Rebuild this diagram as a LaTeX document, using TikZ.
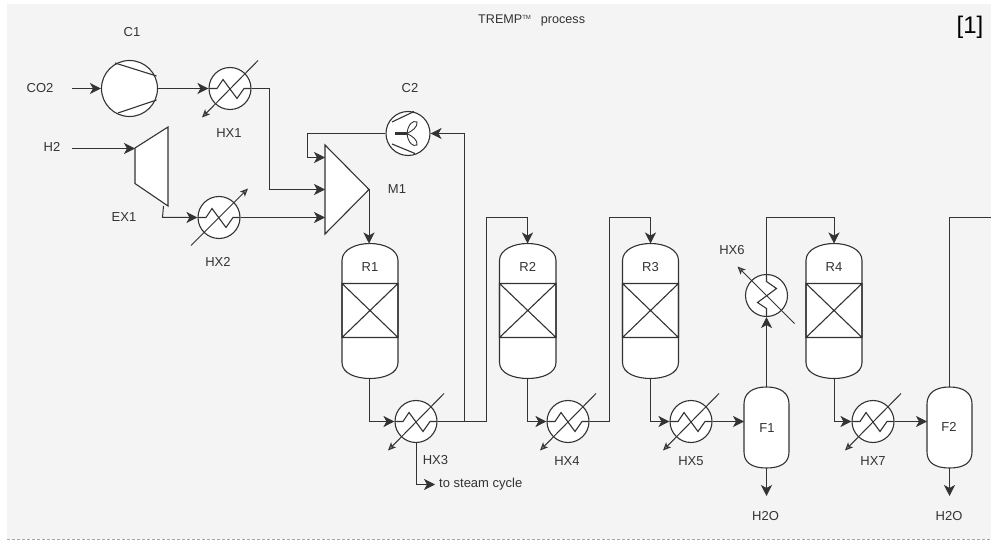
\documentclass[tikz,border=0pt]{standalone}
\usepackage{fontspec}
\setmainfont{Liberation Sans}
\usetikzlibrary{arrows.meta}
\definecolor{panel}{HTML}{F4F4F4}
\definecolor{ink}{HTML}{333333}
\tikzset{
  conn/.style={draw=ink,line width=1pt,-{Stealth[length=11pt,width=11pt,inset=3pt]}},
  plainconn/.style={draw=ink,line width=1pt},
  unit/.style={draw=ink,line width=1.1pt,fill=white},
  hxarrow/.style={draw=ink,line width=1pt,-{Stealth[length=8pt,width=7pt,inset=2pt,fill=gray]}},
  lab/.style={text=ink,font=\fontsize{13}{15}\selectfont,inner sep=0pt},
}
% name, x, y, zigzag scope options, diagonal start, diagonal end
\newcommand{\hxunit}[6]{%
  \node[unit,circle,inner sep=0pt,minimum size=42pt] (#1) at (#2,#3) {};
  \begin{scope}[shift={(#2,#3)}]
    \begin{scope}[#4]
      \draw[draw=ink,line width=1.1pt] (-21,0) -- (-13,0) -- (-7,-9) -- (7,10) -- (14,0) -- (21,0);
    \end{scope}
    \draw[hxarrow] (#5) -- (#6);
  \end{scope}
}
% name, left, right, top, bottom
\newcommand{\vesselbody}[5]{%
  \pgfmathsetmacro{\xc}{(#2+#3)/2}
  \pgfmathsetmacro{\yc}{(#4+#5)/2}
  \pgfmathsetmacro{\wid}{#3-#2}
  \pgfmathsetmacro{\hei}{#5-#4}
  \node[inner sep=0pt,outer sep=0pt,minimum width=\wid pt,minimum height=\hei pt] (#1) at (\xc,\yc) {};
  \draw[unit] (#2,#4+17) .. controls (#2,#4+6) and (\xc-14,#4) .. (\xc,#4)
     .. controls (\xc+14,#4) and (#3,#4+6) .. (#3,#4+17)
     -- (#3,#5-16) .. controls (#3,#5-5) and (\xc+14,#5) .. (\xc,#5)
     .. controls (\xc-14,#5) and (#2,#5-5) .. (#2,#5-16) -- cycle;
}
\newcommand{\reactor}[5]{%
  \vesselbody{#1}{#2}{#3}{243.5}{378.5}
  \draw[draw=ink,line width=1.1pt] (#2,283.5) rectangle (#3,337.5)
     (#2,283.5) -- (#3,337.5) (#2,337.5) -- (#3,283.5);
  \node[lab] (#4) at (\xc,267) {#5};
}
\begin{document}
\begin{tikzpicture}[x=1pt,y=-1pt]
\useasboundingbox (0,0) rectangle (991,540);
\fill[white] (0,0) rectangle (991,540);
\fill[panel] (7,4) rectangle (991,539);
\draw[draw=gray!70,line width=0.6pt,dash pattern=on 3pt off 2pt] (7,539) -- (991,539);

% free ends
\coordinate (co2in) at (72,88.5);
\coordinate (h2in) at (72,148.5);
\coordinate (steam) at (435,484.5);
\coordinate (f1out) at (766.5,496);
\coordinate (f2out) at (949.5,496);
\coordinate (exit) at (991,217.5);

% compressor C1
\node[unit,circle,inner sep=0pt,minimum size=56pt] (c1) at (129.5,88.5) {};
\draw[draw=ink,line width=1.1pt] (115,63) -- (156.5,76) (118,113) -- (156.5,100);
% expander EX1
\node[inner sep=0pt,outer sep=0pt,minimum width=33pt,minimum height=79pt] (ex1) at (151.5,166.5) {};
\draw[unit] (135,148) -- (168,127) -- (168,206) -- (135,183.5) -- cycle;
% compressor C2
\node[unit,circle,inner sep=0pt,minimum size=44pt] (c2) at (408,133.5) {};
\draw[draw=ink,line width=1.1pt] (392,122) -- (414,111.5) (392,144) -- (415,153.5);
\draw[draw=ink,line width=2.2pt] (407,133.5) -- (395,133.5);
\draw[draw=ink,line width=0.9pt,fill=white] (407,133.5) .. controls (408,124) and (413,120) .. (417,122) .. controls (418,127) and (412,131) .. (407,133.5) -- cycle;
\draw[draw=ink,line width=0.9pt,fill=white] (407,133.5) .. controls (408,143) and (413,147) .. (417,145) .. controls (418,140) and (412,136) .. (407,133.5) -- cycle;
% mixer M1
\node[inner sep=0pt,outer sep=0pt,minimum width=44pt,minimum height=89pt] (m1) at (347,189.5) {};
\draw[unit] (325,145) -- (369,189.5) -- (325,234) -- cycle;

% heat exchangers
\hxunit{hx1}{230}{88.5}{}{28,-28}{-28,29}
\hxunit{hx2}{219}{217.5}{}{-28,28}{29,-29}
\hxunit{hx3}{416}{421.5}{}{28,-28}{-28,29}
\hxunit{hx4}{568}{421.5}{}{28,-28}{-28,29}
\hxunit{hx5}{691}{421.5}{}{28,-28}{-28,29}
\hxunit{hx6}{766.5}{295.5}{x={(0pt,1pt)},y={(1pt,0pt)}}{28,28}{-29,-29}
\hxunit{hx7}{873}{421.5}{}{28,-28}{-28,29}

% reactors and flash drums
\reactor{r1}{342}{398}{r1lab}{R1}
\reactor{r2}{499.5}{556}{r2lab}{R2}
\reactor{r3}{622.5}{678.5}{r3lab}{R3}
\reactor{r4}{806}{862}{r4lab}{R4}
\vesselbody{f1}{744}{789}{387}{468}
\vesselbody{f2}{927}{972}{387}{468}

% connectors
\draw[conn] (co2in) -- (c1.west);
\draw[conn] (c1.east) -- (hx1.west);
\draw[conn] (hx1.east) -- (269.5,88.5) -- (269.5,189.5) -- (m1.west);
\draw[conn] (h2in) -- (ex1.west |- h2in);
\draw[conn] ([xshift=12pt]ex1.south) -- (162.5,217.5) -- (hx2.west);
\draw[conn] (hx2.east) -- (m1.west |- hx2.east);
\draw[conn] (c2.west) -- (307.5,133.5) -- (307.5,157.5) -- (m1.west |- 0,157.5);
\draw[conn] (m1.east) -- (r1.north -| m1.east);
\draw[conn] (369.5,378.5) -- (369.5,421.5) -- (hx3.west);
\draw[conn] (hx3.east) -- (464.5,421.5) -- (464.5,133.5) -- (c2.east);
\draw[plainconn] (hx3.east) -- (486.5,421.5) -- (486.5,217.5) -- (527.5,217.5);
\draw[conn] (527.5,217.5) -- (r2.north -| 527.5,0);
\draw[conn] (r2.south) -- (527.75,421.5) -- (hx4.west);
\draw[conn] (hx4.east) -- (609.5,421.5) -- (609.5,217.5) -- (650.5,217.5) -- (r3.north);
\draw[conn] (r3.south) -- (650.5,421.5) -- (hx5.west);
\draw[conn] (hx5.east) -- (f1.west |- hx5.east);
\draw[conn] (f1.north) -- (hx6.south);
\draw[conn] (hx6.north) -- (766.5,217.5) -- (834,217.5) -- (r4.north);
\draw[conn] (r4.south) -- (834,421.5) -- (hx7.west);
\draw[conn] (hx7.east) -- (f2.west |- hx7.east);
\draw[plainconn] (f2.north) -- (949.5,217.5) -- (exit);
\draw[conn] (f1.south) -- (f1out);
\draw[conn] (f2.south) -- (f2out);
\draw[conn] (hx3.south) -- (416,484.5) -- (steam);

% labels
\node[lab] (lc1) at (132,32) {C1};
\node[lab] (lco2) at (40,88) {CO2};
\node[lab] (lh2) at (52,147) {H2};
\node[lab] (lhx1) at (229,133) {HX1};
\node[lab] (lex1) at (124,217) {EX1};
\node[lab] (lhx2) at (218,262) {HX2};
\node[lab] (lc2) at (410,88) {C2};
\node[lab] (lm1) at (397,189) {M1};
\node[lab] (lhx3) at (435.5,460) {HX3};
\node[lab] (lhx4) at (567,461) {HX4};
\node[lab] (lhx5) at (691,461) {HX5};
\node[lab] (lhx6) at (732,250) {HX6};
\node[lab] (lhx7) at (873,461) {HX7};
\node[lab] (lf1) at (767,428) {F1};
\node[lab] (lf2) at (949,427) {F2};
\node[lab] (lw1) at (765.5,516.5) {H2O};
\node[lab] (lw2) at (949,516.5) {H2O};
\node[lab,anchor=west] (lsteam) at (439,484.5) {to steam cycle};
\node[lab,anchor=west] (ltitle) at (478,20) {\fontsize{12.6}{14}\selectfont TREMP\raisebox{4pt}{\fontsize{6}{7}\selectfont TM}\hspace{10pt}process};
\node[inner sep=0pt,text=black,font=\fontsize{24}{28}\selectfont] (lref) at (970,27.5) {[1]};
\end{tikzpicture}
\end{document}
